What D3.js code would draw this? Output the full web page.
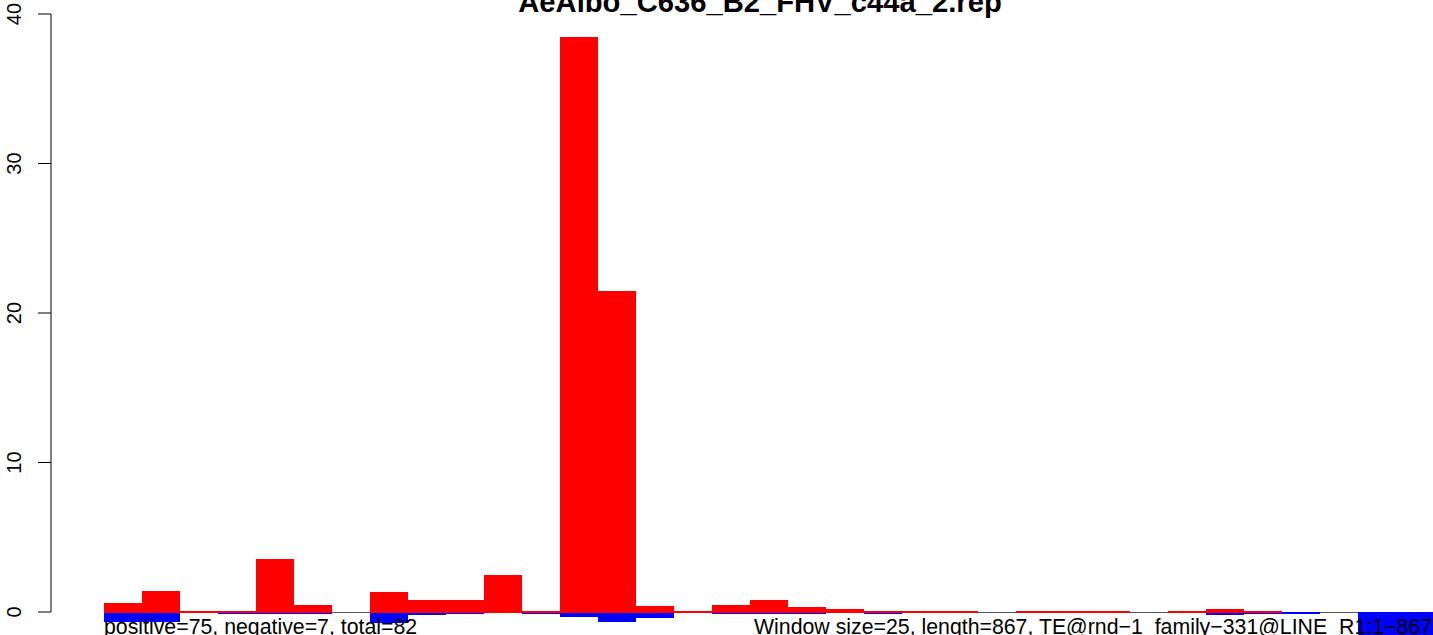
<!DOCTYPE html>
<html>
<head>
<meta charset="utf-8">
<script src="https://cdn.jsdelivr.net/npm/d3@7/dist/d3.min.js"></script>
<style>
  html, body { margin: 0; padding: 0; background: #fff; overflow: hidden; }
  svg { display: block; font-family: "Liberation Sans", Arial, Helvetica, sans-serif; }
  text { white-space: pre; }
</style>
</head>
<body>
<svg id="chart" width="1433" height="635"></svg>
<script>
// ---- data ----
const titleText = "AeAlbo_C636_B2_FHV_c44a_2.rep";
const leftNote = "positive=75, negative=7, total=82";
const rightNote = "Window size=25, length=867, TE@rnd\u22121_family\u2212331@LINE  R1:1\u2212867";
// window start positions (window size 25)
const windows = [1, 26, 51, 76, 101, 126, 151, 176, 201, 226, 251, 276, 301, 326, 351,
  376, 401, 426, 451, 476, 501, 526, 551, 576, 601, 626, 651, 676, 701, 726,
  751, 776, 801, 826, 851];
const positive = [0.62, 1.4, 0.07, 0.03, 3.55, 0.47, 0, 1.34, 0.8, 0.8,
  2.48, 0.07, 38.48, 21.49, 0.4, 0.05, 0.47, 0.8, 0.33, 0.2,
  0.1, 0.04, 0.04, 0, 0.04, 0.04, 0.04, 0, 0.04, 0.22,
  0.07, 0, 0, 0, 0];
const negative = [0.7, 0.7, 0, 0.1, 0.07, 0.07, 0, 0.71, 0.2, 0.09,
  0, 0.07, 0.31, 0.65, 0.38, 0, 0.05, 0.05, 0.05, 0,
  0.07, 0, 0, 0, 0, 0, 0, 0, 0, 0.17,
  0.05, 0.07, 0, 2.0, 2.0];
const yTicks = [0, 10, 20, 30, 40];

// ---- layout ----
const svg = d3.select("#chart");
const plotLeft = 104, plotRight = 1434;
const x = d3.scaleBand().domain(windows).range([plotLeft, plotRight]).padding(0);
const y = d3.scaleLinear().domain([0, 40]).range([612, 14]);

// baseline (one crisp pixel row under the zero line)
svg.append("line")
  .attr("x1", plotLeft).attr("x2", plotRight)
  .attr("y1", y(0) + 0.5).attr("y2", y(0) + 0.5)
  .attr("stroke", "#555").attr("stroke-width", 1);

// negative bars (drawn first, from the zero row downwards)
svg.append("g").selectAll("rect")
  .data(windows.map((w, i) => ({ w, v: negative[i] })).filter(d => d.v > 0))
  .join("rect")
  .attr("x", d => x(d.w))
  .attr("width", x.bandwidth())
  .attr("y", y(0))
  .attr("height", d => Math.max(1.5, y(-d.v) - y(0)))
  .attr("fill", "#0000ff")
  .attr("shape-rendering", "crispEdges");

// positive bars (cover the zero row too)
svg.append("g").selectAll("rect")
  .data(windows.map((w, i) => ({ w, v: positive[i] })).filter(d => d.v > 0))
  .join("rect")
  .attr("x", d => x(d.w))
  .attr("width", x.bandwidth())
  .attr("y", d => y(0) - Math.max(1, y(0) - y(d.v)))
  .attr("height", d => Math.max(1, y(0) - y(d.v)) + 1)
  .attr("fill", "#ff0000")
  .attr("shape-rendering", "crispEdges");

// y axis
const axisX = 51;
const ax = svg.append("g").attr("transform", `translate(${axisX},0)`);
ax.append("line").attr("x1", 0).attr("x2", 0).attr("y1", y(0)).attr("y2", y(40))
  .attr("stroke", "#000").attr("stroke-width", 1);
ax.selectAll("line.tick").data(yTicks).join("line").attr("class", "tick")
  .attr("x1", -13).attr("x2", 0).attr("y1", d => y(d)).attr("y2", d => y(d))
  .attr("stroke", "#000").attr("stroke-width", 1);
ax.selectAll("text").data(yTicks).join("text")
  .attr("transform", d => `translate(-30,${y(d)}) rotate(-90)`)
  .attr("text-anchor", "middle")
  .attr("font-size", 20)
  .text(d => d);

// title
svg.append("text")
  .attr("x", 760).attr("y", 12)
  .attr("text-anchor", "middle")
  .attr("font-weight", "bold")
  .attr("font-size", 29.2)
  .text(titleText);

// notes
svg.append("text")
  .attr("x", 104).attr("y", 634)
  .attr("font-size", 21.3)
  .text(leftNote);
svg.append("text")
  .attr("x", 1432).attr("y", 634)
  .attr("text-anchor", "end")
  .attr("font-size", 21.3)
  .text(rightNote);
</script>
</body>
</html>
